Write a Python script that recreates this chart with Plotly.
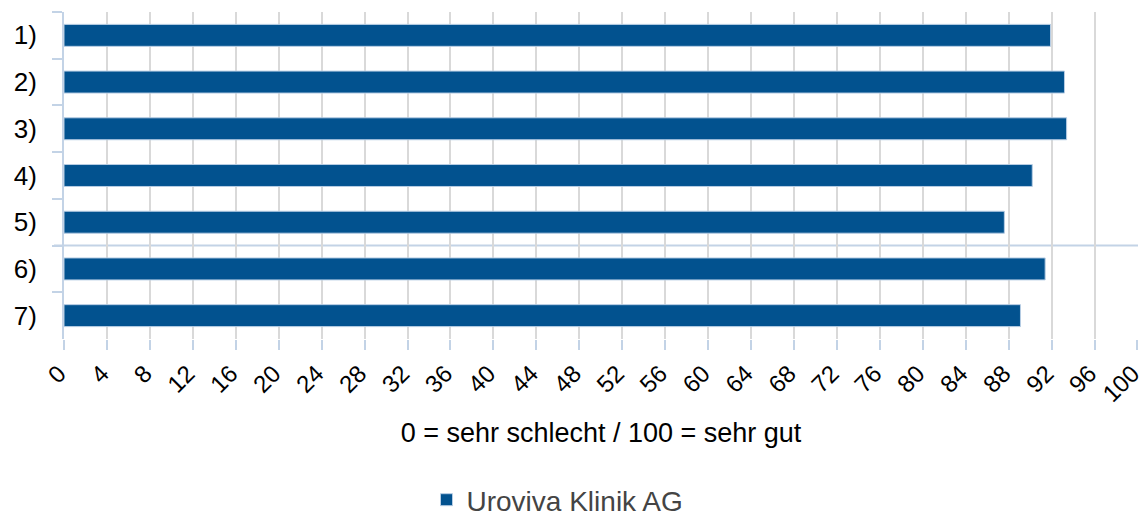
import plotly.graph_objects as go

categories = ["1)", "2)", "3)", "4)", "5)", "6)", "7)"]
values = [91.9, 93.2, 93.4, 90.2, 87.6, 91.4, 89.1]
series_name = "Uroviva Klinik AG"
x_title = "0 = sehr schlecht / 100 = sehr gut"

BAR = "#02528f"
AXIS = "#c3d3e6"
GRID = "#d9d9d9"
FONT = "Liberation Sans, Arial, sans-serif"

fig = go.Figure()
fig.add_trace(go.Bar(
    y=categories, x=values, orientation="h", name=series_name,
    marker=dict(color=BAR, line=dict(color="#b7cde4", width=1)),
    width=0.47, showlegend=True,
))

fig.update_layout(
    width=1139, height=508,
    margin=dict(l=56, r=9, t=4, b=177),
    plot_bgcolor="white", paper_bgcolor="white",
    font=dict(family=FONT, size=26, color="#000000"),
    showlegend=True,
    legend=dict(orientation="h", x=0.4595, xanchor="center", yref="container",
                y=0.0315, yanchor="middle",
                font=dict(size=28, color="#444444"), itemwidth=30),
    xaxis=dict(
        range=[0, 100.05], dtick=4, tick0=0, tickangle=-45,
        showgrid=True, gridcolor=GRID, gridwidth=1.5,
        ticks="outside", ticklen=10, tickcolor=AXIS, tickwidth=1.5,
        showline=False, zeroline=False, ticklabeloverflow="allow",
        ticklabelshift=-5,
        tickfont=dict(size=24, color="#000000"),
        title=dict(text=x_title, font=dict(size=27, color="#000000"), standoff=16),
        automargin=False,
    ),
    yaxis=dict(
        autorange="reversed", type="category",
        showline=True, linecolor=AXIS, linewidth=2,
        ticks="outside", ticklen=10, tickcolor=AXIS, tickwidth=2,
        tickson="boundaries", showgrid=False, ticklabelstandoff=20,
        tickfont=dict(size=26, color="#000000"),
        automargin=False,
    ),
    bargap=0.53,
)

fig.add_shape(type="line", xref="paper", yref="y", x0=-10/1074, x1=1.0, y0=4.5, y1=4.5,
              line=dict(color=AXIS, width=2), layer="below")

fig.write_html("out.html")
